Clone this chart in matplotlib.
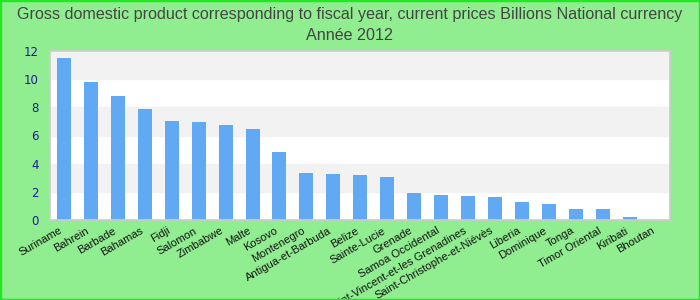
import matplotlib.pyplot as plt
import matplotlib.patches as patches

countries = ['Suriname', 'Bahrein', 'Barbade', 'Bahamas', 'Fidji', 'Salomon',
             'Zimbabwe', 'Malte', 'Kosovo', 'Montenegro', 'Antigua-et-Barbuda',
             'Belize', 'Sainte-Lucie', 'Grenade', 'Samoa Occidental',
             'Saint-Vincent-et-les Grenadines', 'Saint-Christophe-et-Niévès',
             'Liberia', 'Dominique', 'Tonga', 'Timor Oriental', 'Kiribati', 'Bhoutan']
gdp = [11.5, 9.8, 8.8, 7.88, 7.03, 6.96, 6.75, 6.46, 4.83, 3.34, 3.27,
       3.2, 3.05, 1.92, 1.78, 1.71, 1.64, 1.28, 1.14, 0.78, 0.78, 0.21, 0.0]
yticks = [0, 2, 4, 6, 8, 10, 12]

fig = plt.figure(figsize=(7, 3), dpi=100, facecolor='#90ee90')
fig.patches.append(patches.Rectangle((0, 0), 1, 1, transform=fig.transFigure,
                                     fill=False, edgecolor='#22e822', linewidth=2.5))
ax = fig.add_axes([50 / 700, 1 - 220 / 300, 620 / 700, 169 / 300])
ax.set_facecolor('white')

# alternating bands
for i in range(len(yticks) - 1):
    if i % 2 == 1:
        ax.axhspan(yticks[i], yticks[i + 1], color='#f2f2f2', zorder=0)

x = range(len(countries))
ax.bar(x, gdp, width=0.52, color='#62a9f4', zorder=2)
ax.set_xlim(-0.52, len(countries) - 0.5)
ax.set_ylim(0, 12)
ax.set_yticks(yticks)
ax.set_xticks(list(x))
ax.set_xticklabels(countries, rotation=30, ha='right', va='top', fontsize=8,
                   color='#111111', fontfamily='Liberation Sans')
ax.tick_params(axis='x', length=0, pad=4)
ax.tick_params(axis='y', length=0, pad=8, labelsize=8.5, labelcolor='#1a1a9a')
for s in ax.spines.values():
    s.set_color('#cccccc')
    s.set_linewidth(1.2)

fig.text(0.5, 1 - 14 / 300, 'Gross domestic product corresponding to fiscal year, current prices Billions National currency',
         ha='center', va='center', fontsize=11.6, color='#444444', fontfamily='Liberation Sans')
fig.text(0.5, 1 - 36 / 300, 'Année 2012', ha='center', va='center', fontsize=11.6,
         color='#444444', fontfamily='Liberation Sans')

fig.savefig('out.png', dpi=100, facecolor=fig.get_facecolor())
